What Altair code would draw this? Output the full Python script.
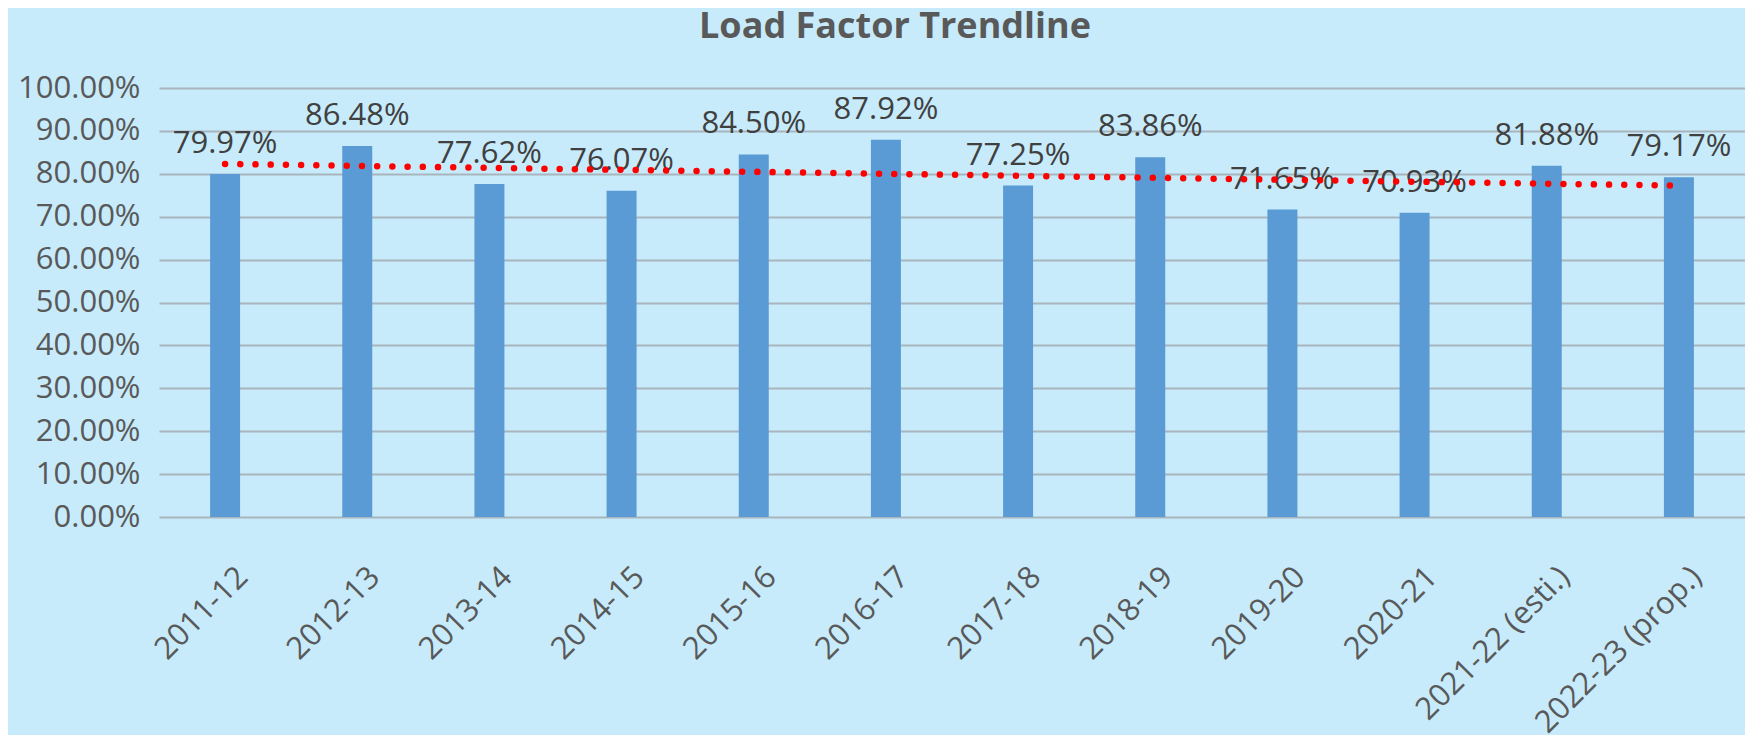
import altair as alt
import pandas as pd

years = ["2011-12", "2012-13", "2013-14", "2014-15", "2015-16", "2016-17",
         "2017-18", "2018-19", "2019-20", "2020-21", "2021-22 (esti.)", "2022-23 (prop.)"]
load_factor = [0.7997, 0.8648, 0.7762, 0.7607, 0.8450, 0.8792,
               0.7725, 0.8386, 0.7165, 0.7093, 0.8188, 0.7917]
y_ticks = [0.0, 0.1, 0.2, 0.3, 0.4, 0.5, 0.6, 0.7, 0.8, 0.9, 1.0]

df = pd.DataFrame({"year": years, "idx": list(range(len(years))), "value": load_factor})

FONT = "Open Sans"
BG = "#C7EBFB"
GRID = "#A9B5BD"

x_enc = alt.X(
    "year:N", sort=years, title=None,
    scale=alt.Scale(paddingInner=0, paddingOuter=0),
    axis=alt.Axis(labelAngle=-45, labelAlign="right", labelBaseline="middle",
                  labelPadding=55, labelOffset=18, ticks=False, domain=False,
                  labelFont=FONT, labelFontSize=31, labelColor="#595959",
                  labelLimit=400),
)
y_enc = alt.Y(
    "value:Q", title=None,
    scale=alt.Scale(domain=[0, 1], nice=False),
    axis=alt.Axis(values=y_ticks, format=".2%", ticks=False, domain=False,
                  labelFont=FONT, labelFontSize=31, labelColor="#595959",
                  labelPadding=19, gridColor=GRID, gridWidth=2, grid=True),
)

base = alt.Chart(df)

bars = base.mark_bar(width=30, color="#5B9BD5").encode(x=x_enc, y=y_enc)

labels = base.mark_text(font=FONT, fontSize=31, color="#404040",
                        baseline="alphabetic", dy=-21).encode(
    x=alt.X("year:N", sort=years),
    y="value:Q",
    text=alt.Text("value:Q", format=".2%"),
)

trend = base.transform_regression("idx", "value", method="linear").transform_lookup(
    lookup="idx", from_=alt.LookupData(df, key="idx", fields=["year"])
).mark_line(color="#FF0000", strokeWidth=6.5, strokeCap="round",
            strokeDash=[0.01, 15.2]).encode(
    x=alt.X("year:N", sort=years),
    y="value:Q",
)

chart = alt.layer(bars, labels, trend).properties(
    width=1586, height=429,
    padding={"left": 151, "top": 80, "right": 0, "bottom": 218},
    autosize=alt.AutoSizeParams(type="none"),
    background=BG,
    title=alt.Title("Load Factor Trendline", font=FONT, fontSize=36,
                    fontWeight="bold", color="#595959", anchor="middle",
                    dx=-57, offset=26),
).configure_view(stroke=None)

chart.save("out.html", embed_options={"renderer": "svg", "actions": False})
